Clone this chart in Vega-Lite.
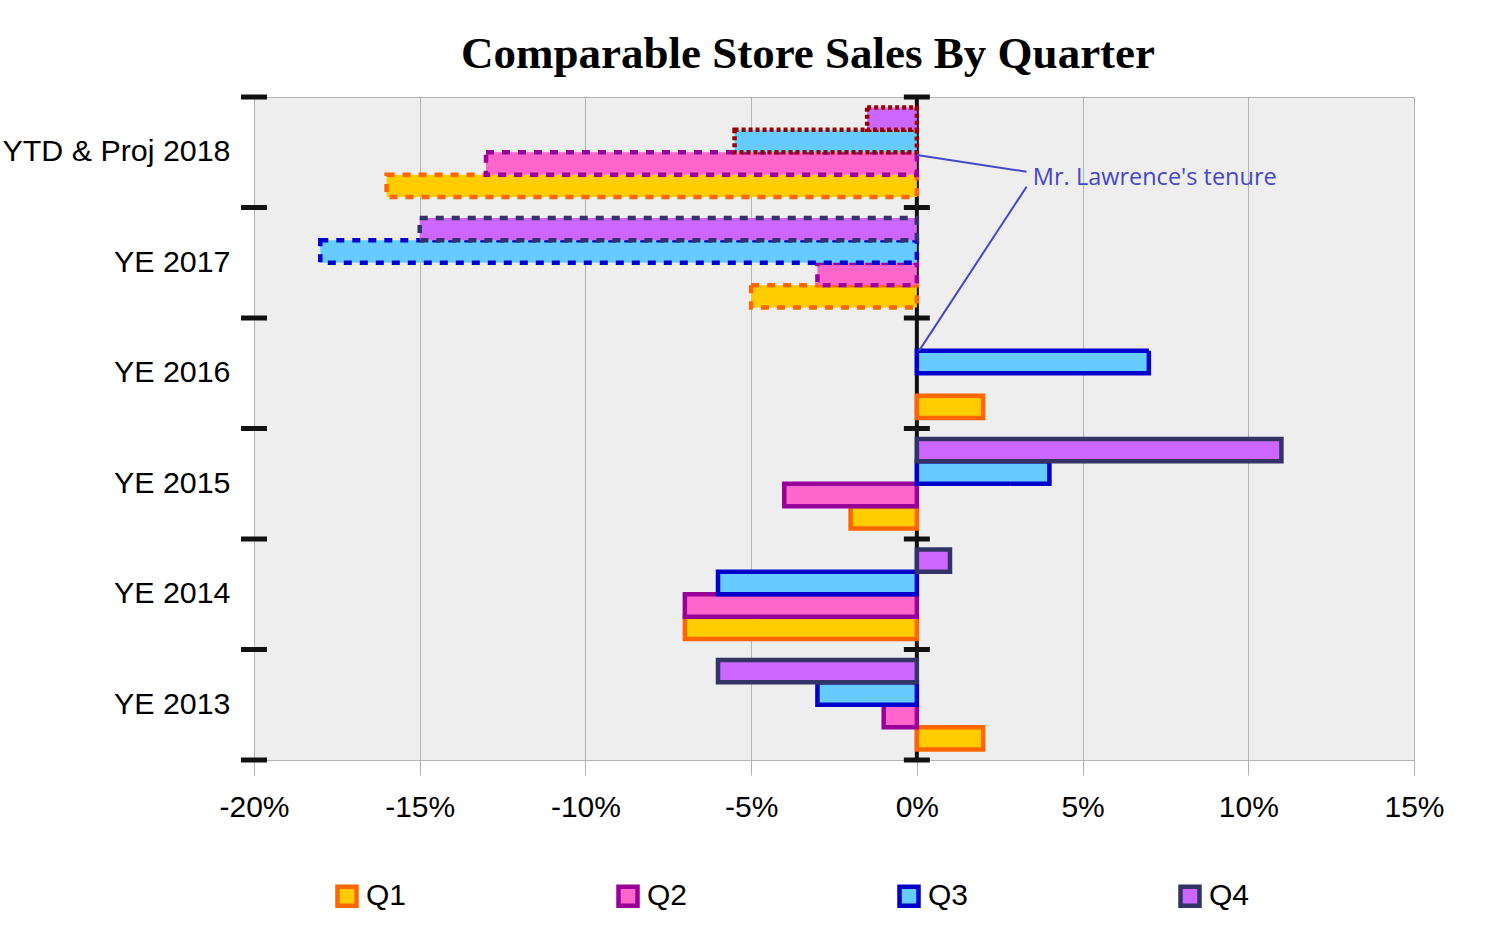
{
  "$schema": "https://vega.github.io/schema/vega-lite/v6.json",
  "width": 1160,
  "height": 663,
  "autosize": "none",
  "padding": {"left": 254, "top": 97, "right": 90, "bottom": 180},
  "background": "white",
  "title": {
    "text": "Comparable Store Sales By Quarter",
    "font": "Liberation Serif",
    "fontSize": 45,
    "fontWeight": "bold",
    "color": "black",
    "anchor": "middle",
    "dx": -26,
    "offset": 18
  },
  "datasets": {
    "sales": [
      {"Year": "YE 2013", "Quarter": "Q1", "Change": 2, "Status": "Reported"},
      {"Year": "YE 2013", "Quarter": "Q2", "Change": -1, "Status": "Reported"},
      {"Year": "YE 2013", "Quarter": "Q3", "Change": -3, "Status": "Reported"},
      {"Year": "YE 2013", "Quarter": "Q4", "Change": -6, "Status": "Reported"},
      {"Year": "YE 2014", "Quarter": "Q1", "Change": -7, "Status": "Reported"},
      {"Year": "YE 2014", "Quarter": "Q2", "Change": -7, "Status": "Reported"},
      {"Year": "YE 2014", "Quarter": "Q3", "Change": -6, "Status": "Reported"},
      {"Year": "YE 2014", "Quarter": "Q4", "Change": 1, "Status": "Reported"},
      {"Year": "YE 2015", "Quarter": "Q1", "Change": -2, "Status": "Reported"},
      {"Year": "YE 2015", "Quarter": "Q2", "Change": -4, "Status": "Reported"},
      {"Year": "YE 2015", "Quarter": "Q3", "Change": 4, "Status": "Reported"},
      {"Year": "YE 2015", "Quarter": "Q4", "Change": 11, "Status": "Reported"},
      {"Year": "YE 2016", "Quarter": "Q1", "Change": 2, "Status": "Reported"},
      {"Year": "YE 2016", "Quarter": "Q3", "Change": 7, "Status": "Reported"},
      {"Year": "YE 2017", "Quarter": "Q1", "Change": -5, "Status": "Tenure"},
      {"Year": "YE 2017", "Quarter": "Q2", "Change": -3, "Status": "Tenure"},
      {"Year": "YE 2017", "Quarter": "Q3", "Change": -18, "Status": "Tenure"},
      {"Year": "YE 2017", "Quarter": "Q4", "Change": -15, "Status": "Tenure"},
      {"Year": "YTD & Proj 2018", "Quarter": "Q1", "Change": -16, "Status": "Tenure"},
      {"Year": "YTD & Proj 2018", "Quarter": "Q2", "Change": -13, "Status": "Tenure"},
      {"Year": "YTD & Proj 2018", "Quarter": "Q3", "Change": -5.5, "Status": "Projected"},
      {"Year": "YTD & Proj 2018", "Quarter": "Q4", "Change": -1.5, "Status": "Projected"}
    ],
    "edges": [
      {"pos": 0, "at": -20}, {"pos": 1, "at": -20}, {"pos": 2, "at": -20},
      {"pos": 3, "at": -20}, {"pos": 4, "at": -20}, {"pos": 5, "at": -20},
      {"pos": 6, "at": -20},
      {"pos": 0, "at": 0}, {"pos": 1, "at": 0}, {"pos": 2, "at": 0},
      {"pos": 3, "at": 0}, {"pos": 4, "at": 0}, {"pos": 5, "at": 0},
      {"pos": 6, "at": 0}
    ],
    "callout": [
      {"x": 3.31, "x2": 0, "y": 5.324, "y2": 5.475},
      {"x": 3.31, "x2": 0.06, "y": 5.188, "y2": 3.7}
    ],
    "note": [
      {"x": 3.5, "y": 5.267, "text": "Mr. Lawrence's tenure"}
    ]
  },
  "layer": [
    {
      "data": {"values": [{}]},
      "mark": {"type": "rule", "color": "#111111", "strokeWidth": 4},
      "encoding": {
        "x": {"datum": 0, "type": "quantitative", "scale": {"domain": [-20, 15]}, "title": null}
      }
    },
    {
      "data": {"name": "sales"},
      "mark": {"type": "bar", "strokeWidth": 4.5},
      "encoding": {
        "y": {
          "field": "Year",
          "type": "nominal",
          "scale": {
            "domain": ["YTD & Proj 2018", "YE 2017", "YE 2016", "YE 2015", "YE 2014", "YE 2013"],
            "paddingInner": 0.19,
            "paddingOuter": 0.095
          },
          "axis": {
            "title": null,
            "ticks": false,
            "domain": false,
            "grid": false,
            "labelPadding": 24,
            "labelFont": "Liberation Sans",
            "labelFontSize": 30.4,
            "labelColor": "black",
            "labelLimit": 400
          }
        },
        "yOffset": {
          "field": "Quarter",
          "scale": {"domain": ["Q4", "Q3", "Q2", "Q1"]}
        },
        "x": {
          "field": "Change",
          "type": "quantitative",
          "scale": {"domain": [-20, 15], "nice": false},
          "title": null,
          "axis": {
            "values": [-20, -15, -10, -5, 0, 5, 10, 15],
            "labelExpr": "datum.value + '%'",
            "labelFlush": false,
            "labelOverlap": false,
            "domain": false,
            "grid": true,
            "gridColor": "#b3b3b3",
            "gridWidth": 1,
            "tickColor": "#b3b3b3",
            "tickSize": 15,
            "labelPadding": 17,
            "labelFont": "Liberation Sans",
            "labelFontSize": 30,
            "labelColor": "black"
          }
        },
        "fill": {
          "field": "Quarter",
          "type": "nominal",
          "scale": {
            "domain": ["Q1", "Q2", "Q3", "Q4"],
            "range": ["#ffcc00", "#ff66cc", "#66ccff", "#cc66ff"]
          },
          "legend": {
            "title": null,
            "orient": "none",
            "legendX": 78,
            "legendY": 784,
            "direction": "horizontal",
            "symbolType": "square",
            "symbolSize": 361,
            "symbolStrokeWidth": 4.5,
            "symbolOpacity": 1,
            "labelFont": "Liberation Sans",
            "labelFontSize": 30,
            "labelColor": "black",
            "labelOffset": 4,
            "columnPadding": 202
          }
        },
        "stroke": {
          "condition": {"test": "datum.Status == 'Projected'", "value": "#990000"},
          "field": "Quarter",
          "type": "nominal",
          "scale": {
            "domain": ["Q1", "Q2", "Q3", "Q4"],
            "range": ["#ff6600", "#990099", "#0000cc", "#333366"]
          },
          "legend": {
            "title": null,
            "orient": "none",
            "legendX": 78,
            "legendY": 784,
            "direction": "horizontal",
            "symbolType": "square",
            "symbolSize": 361,
            "symbolStrokeWidth": 4.5,
            "labelFont": "Liberation Sans",
            "labelFontSize": 30,
            "labelColor": "black",
            "labelOffset": 4,
            "columnPadding": 202
          }
        },
        "strokeDash": {
          "field": "Status",
          "type": "nominal",
          "scale": {
            "domain": ["Reported", "Tenure", "Projected"],
            "range": [[1, 0], [8, 8], [4, 3]]
          },
          "legend": null
        }
      }
    },
    {
      "data": {"name": "edges"},
      "mark": {"type": "tick", "orient": "horizontal", "color": "#111111", "thickness": 5, "size": 26, "opacity": 1},
      "encoding": {
        "x": {"field": "at", "type": "quantitative", "scale": {"domain": [-20, 15]}, "title": null},
        "y": {"field": "pos", "type": "quantitative", "scale": {"domain": [0, 6], "nice": false, "zero": true}, "axis": null}
      }
    },
    {
      "data": {"name": "callout"},
      "mark": {"type": "rule", "color": "#4646c8", "strokeWidth": 2},
      "encoding": {
        "x": {"field": "x", "type": "quantitative", "scale": {"domain": [-20, 15]}, "title": null},
        "x2": {"field": "x2"},
        "y": {"field": "y", "type": "quantitative", "scale": {"domain": [0, 6], "nice": false}, "axis": null},
        "y2": {"field": "y2"}
      }
    },
    {
      "data": {"name": "note"},
      "mark": {"type": "text", "font": "Open Sans", "fontSize": 23.5, "color": "#4646c8", "align": "left", "baseline": "middle"},
      "encoding": {
        "x": {"field": "x", "type": "quantitative", "scale": {"domain": [-20, 15]}, "title": null},
        "y": {"field": "y", "type": "quantitative", "scale": {"domain": [0, 6], "nice": false}, "axis": null},
        "text": {"field": "text"}
      }
    }
  ],
  "resolve": {"scale": {"y": "independent"}},
  "config": {
    "view": {"fill": "#eeeeee", "stroke": "#b3b3b3", "strokeWidth": 1}
  }
}
